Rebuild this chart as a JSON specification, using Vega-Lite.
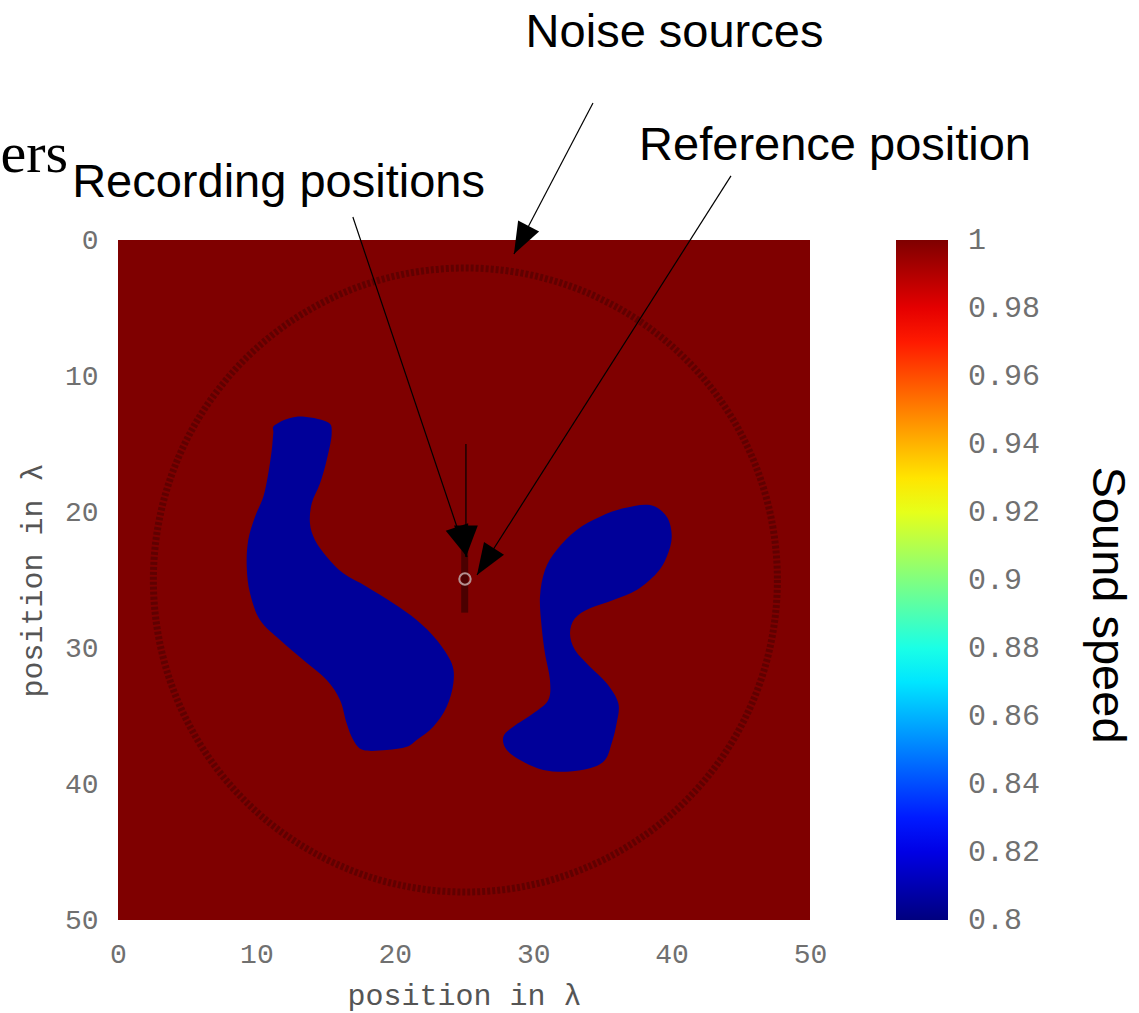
{
  "$schema": "https://vega.github.io/schema/vega-lite/v6.json",
  "width": 692,
  "height": 680,
  "autosize": {"type": "none"},
  "padding": {"left": 118, "top": 240, "right": 329, "bottom": 93},
  "background": "#ffffff",
  "config": {
    "view": {"stroke": null},
    "font": "Liberation Sans",
    "axis": {
      "zindex": 1,
      "grid": false,
      "ticks": false,
      "domain": false,
      "labelFlush": false,
      "labelFont": "Liberation Mono",
      "labelFontSize": 28,
      "labelColor": "#707070",
      "labelPadding": 20,
      "titleFont": "Liberation Mono",
      "titleFontSize": 30,
      "titleFontWeight": "normal",
      "titleColor": "#555555"
    },
    "axisX": {"titlePadding": 12},
    "axisY": {"titlePadding": 17}
  },
  "datasets": {
    "field": [{"x0": 0, "x1": 50, "y0": 0, "y1": 50, "v": 1}],
    "blobs": [
      {"blob": "left", "i": 1, "x": 11.34, "y": 13.60, "v": 0.805},
      {"blob": "left", "i": 2, "x": 12.91, "y": 12.99, "v": 0.805},
      {"blob": "left", "i": 3, "x": 15.08, "y": 13.36, "v": 0.805},
      {"blob": "left", "i": 4, "x": 15.44, "y": 14.21, "v": 0.805},
      {"blob": "left", "i": 5, "x": 15.08, "y": 16.18, "v": 0.805},
      {"blob": "left", "i": 6, "x": 14.60, "y": 17.89, "v": 0.805},
      {"blob": "left", "i": 7, "x": 14.00, "y": 19.36, "v": 0.805},
      {"blob": "left", "i": 8, "x": 13.87, "y": 20.83, "v": 0.805},
      {"blob": "left", "i": 9, "x": 14.23, "y": 22.06, "v": 0.805},
      {"blob": "left", "i": 10, "x": 15.08, "y": 23.29, "v": 0.805},
      {"blob": "left", "i": 11, "x": 16.28, "y": 24.51, "v": 0.805},
      {"blob": "left", "i": 12, "x": 17.97, "y": 25.49, "v": 0.805},
      {"blob": "left", "i": 13, "x": 19.89, "y": 26.71, "v": 0.805},
      {"blob": "left", "i": 14, "x": 21.58, "y": 27.94, "v": 0.805},
      {"blob": "left", "i": 15, "x": 23.03, "y": 29.41, "v": 0.805},
      {"blob": "left", "i": 16, "x": 24.11, "y": 31.13, "v": 0.805},
      {"blob": "left", "i": 17, "x": 24.23, "y": 32.60, "v": 0.805},
      {"blob": "left", "i": 18, "x": 23.75, "y": 34.32, "v": 0.805},
      {"blob": "left", "i": 19, "x": 22.78, "y": 35.79, "v": 0.805},
      {"blob": "left", "i": 20, "x": 21.58, "y": 36.76, "v": 0.805},
      {"blob": "left", "i": 21, "x": 20.86, "y": 37.26, "v": 0.805},
      {"blob": "left", "i": 22, "x": 19.41, "y": 37.50, "v": 0.805},
      {"blob": "left", "i": 23, "x": 17.72, "y": 37.50, "v": 0.805},
      {"blob": "left", "i": 24, "x": 17.00, "y": 36.76, "v": 0.805},
      {"blob": "left", "i": 25, "x": 16.52, "y": 35.54, "v": 0.805},
      {"blob": "left", "i": 26, "x": 16.04, "y": 33.82, "v": 0.805},
      {"blob": "left", "i": 27, "x": 15.08, "y": 32.35, "v": 0.805},
      {"blob": "left", "i": 28, "x": 13.39, "y": 30.88, "v": 0.805},
      {"blob": "left", "i": 29, "x": 11.71, "y": 29.41, "v": 0.805},
      {"blob": "left", "i": 30, "x": 10.26, "y": 27.94, "v": 0.805},
      {"blob": "left", "i": 31, "x": 9.54, "y": 25.98, "v": 0.805},
      {"blob": "left", "i": 32, "x": 9.30, "y": 24.02, "v": 0.805},
      {"blob": "left", "i": 33, "x": 9.41, "y": 22.06, "v": 0.805},
      {"blob": "left", "i": 34, "x": 9.90, "y": 20.35, "v": 0.805},
      {"blob": "left", "i": 35, "x": 10.50, "y": 18.88, "v": 0.805},
      {"blob": "left", "i": 36, "x": 10.86, "y": 17.15, "v": 0.805},
      {"blob": "left", "i": 37, "x": 11.11, "y": 15.44, "v": 0.805},
      {"blob": "left", "i": 38, "x": 11.22, "y": 14.21, "v": 0.805},
      {"blob": "right", "i": 1, "x": 38.44, "y": 19.49, "v": 0.805},
      {"blob": "right", "i": 2, "x": 39.65, "y": 20.35, "v": 0.805},
      {"blob": "right", "i": 3, "x": 40.01, "y": 21.82, "v": 0.805},
      {"blob": "right", "i": 4, "x": 39.65, "y": 23.29, "v": 0.805},
      {"blob": "right", "i": 5, "x": 38.92, "y": 24.51, "v": 0.805},
      {"blob": "right", "i": 6, "x": 37.48, "y": 25.74, "v": 0.805},
      {"blob": "right", "i": 7, "x": 35.79, "y": 26.47, "v": 0.805},
      {"blob": "right", "i": 8, "x": 34.10, "y": 27.08, "v": 0.805},
      {"blob": "right", "i": 9, "x": 33.02, "y": 27.82, "v": 0.805},
      {"blob": "right", "i": 10, "x": 32.66, "y": 28.92, "v": 0.805},
      {"blob": "right", "i": 11, "x": 33.02, "y": 30.15, "v": 0.805},
      {"blob": "right", "i": 12, "x": 34.10, "y": 31.38, "v": 0.805},
      {"blob": "right", "i": 13, "x": 35.31, "y": 32.60, "v": 0.805},
      {"blob": "right", "i": 14, "x": 36.15, "y": 34.07, "v": 0.805},
      {"blob": "right", "i": 15, "x": 36.03, "y": 35.54, "v": 0.805},
      {"blob": "right", "i": 16, "x": 35.67, "y": 37.01, "v": 0.805},
      {"blob": "right", "i": 17, "x": 35.19, "y": 38.24, "v": 0.805},
      {"blob": "right", "i": 18, "x": 34.10, "y": 38.85, "v": 0.805},
      {"blob": "right", "i": 19, "x": 32.42, "y": 39.10, "v": 0.805},
      {"blob": "right", "i": 20, "x": 30.73, "y": 38.97, "v": 0.805},
      {"blob": "right", "i": 21, "x": 29.28, "y": 38.36, "v": 0.805},
      {"blob": "right", "i": 22, "x": 28.09, "y": 37.50, "v": 0.805},
      {"blob": "right", "i": 23, "x": 27.84, "y": 36.52, "v": 0.805},
      {"blob": "right", "i": 24, "x": 28.56, "y": 35.79, "v": 0.805},
      {"blob": "right", "i": 25, "x": 30.01, "y": 34.80, "v": 0.805},
      {"blob": "right", "i": 26, "x": 31.09, "y": 33.82, "v": 0.805},
      {"blob": "right", "i": 27, "x": 31.21, "y": 32.35, "v": 0.805},
      {"blob": "right", "i": 28, "x": 30.85, "y": 30.39, "v": 0.805},
      {"blob": "right", "i": 29, "x": 30.61, "y": 28.43, "v": 0.805},
      {"blob": "right", "i": 30, "x": 30.49, "y": 26.23, "v": 0.805},
      {"blob": "right", "i": 31, "x": 30.85, "y": 24.26, "v": 0.805},
      {"blob": "right", "i": 32, "x": 31.70, "y": 22.79, "v": 0.805},
      {"blob": "right", "i": 33, "x": 33.14, "y": 21.32, "v": 0.805},
      {"blob": "right", "i": 34, "x": 34.83, "y": 20.35, "v": 0.805},
      {"blob": "right", "i": 35, "x": 36.51, "y": 19.73, "v": 0.805}
    ],
    "sources": [{"x": 25.1, "y": 25.0}],
    "receivers": [{"x": 25.05, "y0": 22.8, "y1": 27.4}],
    "reference": [{"x": 25.07, "y": 24.93}],
    "arrows": [
      {"name": "noise", "x": 34.32, "y": -10.07, "x2": 28.61, "y2": 1.03},
      {"name": "recording", "x": 16.97, "y": -1.69, "x2": 25.22, "y2": 23.31},
      {"name": "recording_line", "x": 25.14, "y": 15.0, "x2": 25.14, "y2": 23.31},
      {"name": "reference", "x": 44.29, "y": -4.71, "x2": 25.94, "y2": 24.63}
    ],
    "notes": [
      {"text": "Noise sources", "x": 40.21, "y": -14.19},
      {"text": "Reference position", "x": 51.81, "y": -5.88},
      {"text": "Recording positions", "x": 11.6, "y": -3.16}
    ],
    "heading": [{"text": "ers", "x": -3.61, "y": -5.0}],
    "colorbarTitle": [{"text": "Sound speed", "x": 71.46, "y": 26.84}]
  },
  "layer": [
    {
      "description": "slide backdrop: light grey vertical gradient",
      "mark": {
        "type": "rect",
        "fill": {
          "gradient": "linear", "x1": 0, "y1": 0, "x2": 0, "y2": 1,
          "stops": [{"offset": 0, "color": "#e5e5e5"}, {"offset": 1, "color": "#ffffff"}]
        }
      },
      "encoding": {
        "x": {"datum": -8.53, "type": "quantitative"},
        "x2": {"datum": 73.77},
        "y": {"datum": -17.65, "type": "quantitative"},
        "y2": {"datum": 56.84}
      }
    },
    {
      "description": "white figure panel",
      "mark": {"type": "rect", "fill": "#ffffff"},
      "encoding": {
        "x": {"datum": -8.53, "type": "quantitative"},
        "x2": {"datum": 70.09},
        "y": {"datum": -4.71, "type": "quantitative"},
        "y2": {"datum": 56.84}
      }
    },
    {
      "data": {"name": "field"},
      "mark": {"type": "rect"},
      "encoding": {
        "x": {
          "field": "x0", "type": "quantitative",
          "scale": {"domain": [0, 50], "nice": false, "zero": false},
          "axis": {"values": [0, 10, 20, 30, 40, 50], "title": "position in λ"}
        },
        "x2": {"field": "x1"},
        "y": {
          "field": "y0", "type": "quantitative",
          "scale": {"domain": [0, 50], "reverse": true, "nice": false, "zero": false},
          "axis": {"values": [0, 10, 20, 30, 40, 50], "title": "position in λ"}
        },
        "y2": {"field": "y1"},
        "color": {
          "field": "v", "type": "quantitative",
          "scale": {
            "domain": [0.79995, 0.825, 0.875, 0.925, 0.975, 1.00005],
            "range": ["#00007f", "#0000ff", "#00ffff", "#ffff00", "#ff0000", "#7f0000"],
            "interpolate": "rgb"
          },
          "legend": {
            "orient": "right",
            "offset": 86,
            "padding": 0,
            "title": null,
            "direction": "vertical",
            "values": [0.8, 0.82, 0.84, 0.86, 0.88, 0.9, 0.92, 0.94, 0.96, 0.98, 1],
            "format": ".2~f",
            "gradientLength": 680,
            "gradientThickness": 52,
            "gradientStrokeWidth": 0,
            "labelOffset": 20,
            "labelBaseline": "middle",
            "labelOverlap": false,
            "labelFont": "Liberation Mono",
            "labelFontSize": 30,
            "labelColor": "#707070"
          }
        }
      }
    },
    {
      "data": {"name": "blobs"},
      "mark": {"type": "line", "filled": true, "interpolate": "cardinal-closed"},
      "encoding": {
        "x": {"field": "x", "type": "quantitative"},
        "y": {"field": "y", "type": "quantitative"},
        "detail": {"field": "blob"},
        "order": {"field": "i", "type": "quantitative"},
        "color": {"field": "v", "type": "quantitative"}
      }
    },
    {
      "description": "ring of noise sources",
      "data": {"name": "sources"},
      "mark": {
        "type": "point", "shape": "circle", "filled": false, "size": 389376,
        "stroke": "#600000", "strokeWidth": 7, "strokeDash": [3, 2], "opacity": 1
      },
      "encoding": {
        "x": {"field": "x", "type": "quantitative"},
        "y": {"field": "y", "type": "quantitative"}
      }
    },
    {
      "description": "line of recording positions",
      "data": {"name": "receivers"},
      "mark": {"type": "rule", "stroke": "#420000", "strokeWidth": 7, "opacity": 0.85},
      "encoding": {
        "x": {"field": "x", "type": "quantitative"},
        "y": {"field": "y0", "type": "quantitative"},
        "y2": {"field": "y1"}
      }
    },
    {
      "description": "reference position",
      "data": {"name": "reference"},
      "mark": {"type": "point", "shape": "circle", "filled": false, "size": 130, "stroke": "#b49090", "strokeWidth": 2, "opacity": 1},
      "encoding": {
        "x": {"field": "x", "type": "quantitative"},
        "y": {"field": "y", "type": "quantitative"}
      }
    },
    {
      "data": {"name": "arrows"},
      "mark": {"type": "rule", "stroke": "#000000", "strokeWidth": 1.2},
      "encoding": {
        "x": {"field": "x", "type": "quantitative"},
        "y": {"field": "y", "type": "quantitative"},
        "x2": {"field": "x2"},
        "y2": {"field": "y2"}
      }
    },
    {
      "data": {"name": "arrows"},
      "transform": [{"filter": "datum.name === 'noise'"}],
      "mark": {"type": "point", "shape": "M0,0L-0.75,-2L0.75,-2Z", "size": 1000, "filled": true, "fill": "#000000", "opacity": 1, "angle": 27.6},
      "encoding": {
        "x": {"field": "x2", "type": "quantitative"},
        "y": {"field": "y2", "type": "quantitative"}
      }
    },
    {
      "data": {"name": "arrows"},
      "transform": [{"filter": "datum.name === 'recording'"}],
      "mark": {"type": "point", "shape": "M0,0L-0.75,-2L0.75,-2Z", "size": 1000, "filled": true, "fill": "#000000", "opacity": 1, "angle": -18.6},
      "encoding": {
        "x": {"field": "x2", "type": "quantitative"},
        "y": {"field": "y2", "type": "quantitative"}
      }
    },
    {
      "data": {"name": "arrows"},
      "transform": [{"filter": "datum.name === 'recording_line'"}],
      "mark": {"type": "point", "shape": "M0,0L-0.75,-2L0.75,-2Z", "size": 1000, "filled": true, "fill": "#000000", "opacity": 1, "angle": 0},
      "encoding": {
        "x": {"field": "x2", "type": "quantitative"},
        "y": {"field": "y2", "type": "quantitative"}
      }
    },
    {
      "data": {"name": "arrows"},
      "transform": [{"filter": "datum.name === 'reference'"}],
      "mark": {"type": "point", "shape": "M0,0L-0.75,-2L0.75,-2Z", "size": 1000, "filled": true, "fill": "#000000", "opacity": 1, "angle": 32.5},
      "encoding": {
        "x": {"field": "x2", "type": "quantitative"},
        "y": {"field": "y2", "type": "quantitative"}
      }
    },
    {
      "data": {"name": "notes"},
      "mark": {"type": "text", "font": "Liberation Sans", "fontSize": 47, "align": "center", "baseline": "alphabetic", "color": "#000000"},
      "encoding": {
        "x": {"field": "x", "type": "quantitative"},
        "y": {"field": "y", "type": "quantitative"},
        "text": {"field": "text"}
      }
    },
    {
      "data": {"name": "heading"},
      "mark": {"type": "text", "font": "Liberation Serif", "fontSize": 58, "align": "right", "baseline": "alphabetic", "color": "#000000"},
      "encoding": {
        "x": {"field": "x", "type": "quantitative"},
        "y": {"field": "y", "type": "quantitative"},
        "text": {"field": "text"}
      }
    },
    {
      "data": {"name": "colorbarTitle"},
      "mark": {"type": "text", "font": "Liberation Sans", "fontSize": 47, "align": "center", "baseline": "middle", "angle": 90, "color": "#000000"},
      "encoding": {
        "x": {"field": "x", "type": "quantitative"},
        "y": {"field": "y", "type": "quantitative"},
        "text": {"field": "text"}
      }
    }
  ]
}
